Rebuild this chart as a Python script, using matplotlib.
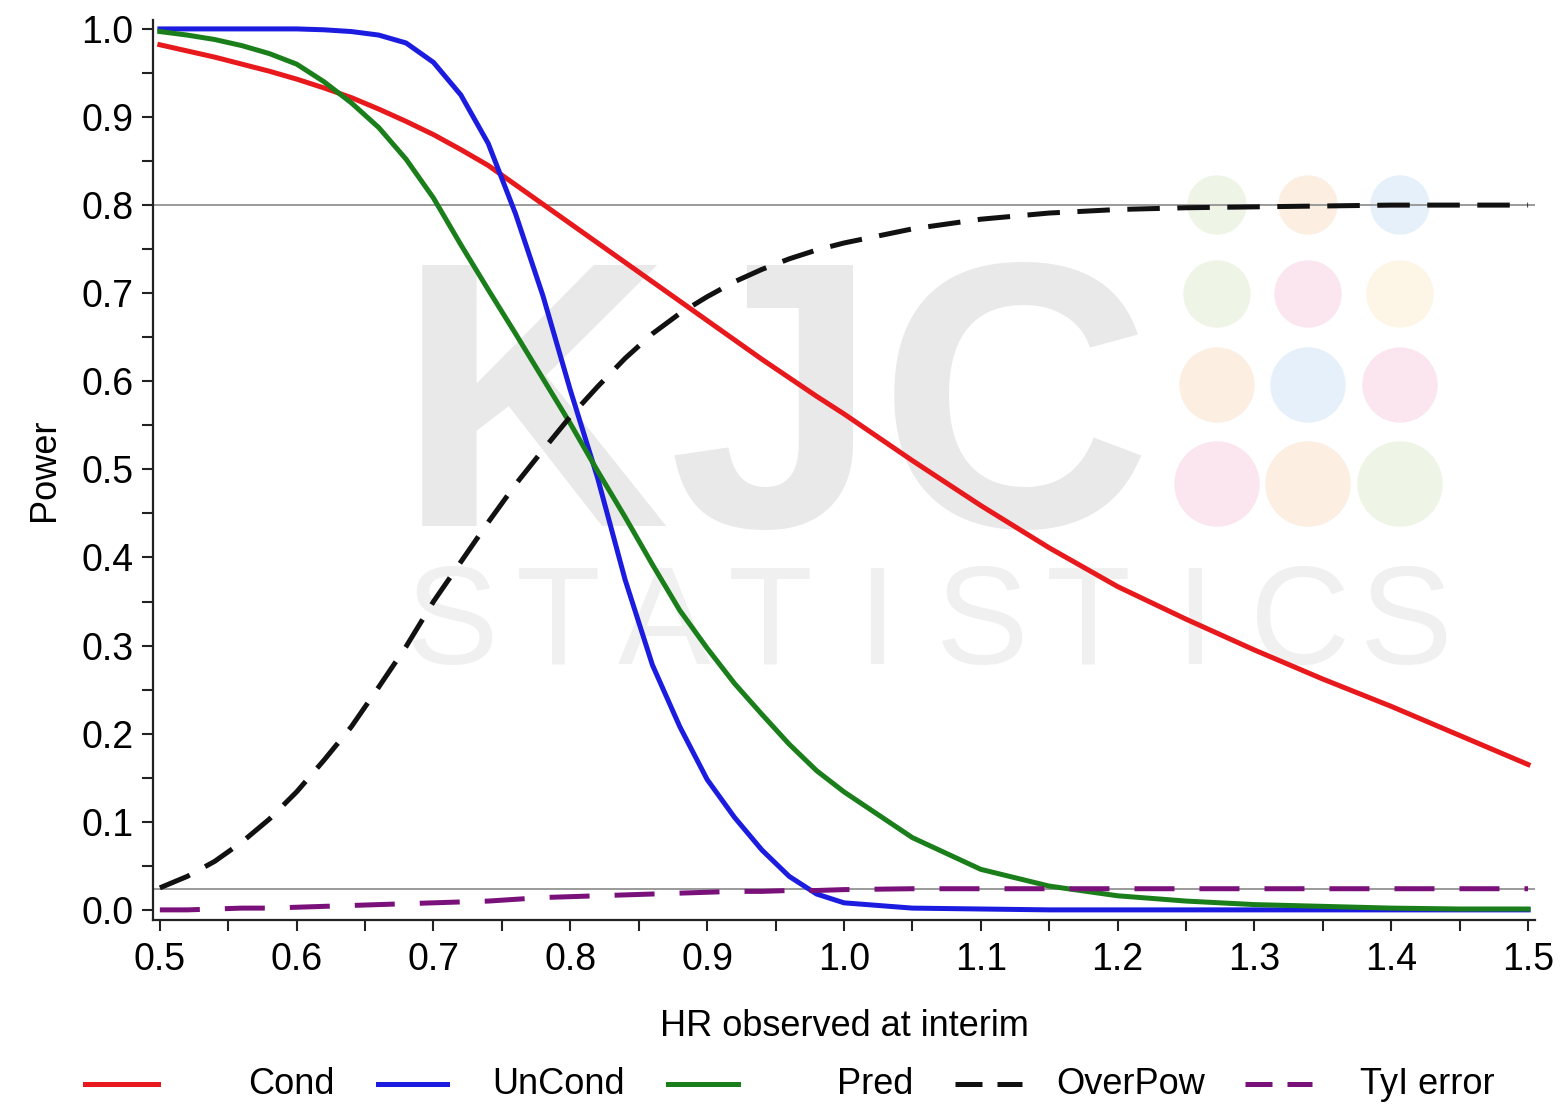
import matplotlib
matplotlib.use("Agg")
import matplotlib.pyplot as plt
from matplotlib.lines import Line2D
from matplotlib.patches import Circle

plt.rcParams['font.family'] = ['Liberation Sans', 'DejaVu Sans']

# values
hr = [0.50, 0.52, 0.54, 0.56, 0.58, 0.60, 0.62, 0.64, 0.66, 0.68, 0.70, 0.72,
      0.74, 0.76, 0.78, 0.80, 0.82, 0.84, 0.86, 0.88, 0.90, 0.92, 0.94, 0.96,
      0.98, 1.00, 1.05, 1.10, 1.15, 1.20, 1.25, 1.30, 1.35, 1.40, 1.45, 1.50]

cond = [0.982, 0.975, 0.968, 0.960, 0.952, 0.943, 0.933, 0.922, 0.909, 0.895, 0.880, 0.863,
        0.845, 0.823, 0.801, 0.779, 0.757, 0.735, 0.713, 0.691, 0.669, 0.647, 0.625, 0.604,
        0.583, 0.563, 0.510, 0.459, 0.411, 0.367, 0.330, 0.295, 0.262, 0.231, 0.198, 0.165]

uncond = [1.000, 1.000, 1.000, 1.000, 1.000, 1.000, 0.999, 0.997, 0.993, 0.984, 0.962, 0.925,
          0.870, 0.790, 0.697, 0.590, 0.490, 0.375, 0.278, 0.208, 0.148, 0.105, 0.068, 0.038,
          0.018, 0.008, 0.002, 0.001, 0.000, 0.000, 0.000, 0.000, 0.000, 0.000, 0.000, 0.000]

pred = [0.997, 0.993, 0.988, 0.981, 0.972, 0.960, 0.940, 0.916, 0.888, 0.852, 0.808, 0.755,
        0.704, 0.654, 0.603, 0.552, 0.498, 0.446, 0.392, 0.340, 0.297, 0.257, 0.222, 0.188,
        0.158, 0.134, 0.082, 0.046, 0.027, 0.016, 0.010, 0.006, 0.004, 0.002, 0.001, 0.001]

overpow = [0.025, 0.038, 0.055, 0.077, 0.103, 0.134, 0.170, 0.208, 0.253, 0.299, 0.350, 0.395,
           0.440, 0.483, 0.522, 0.560, 0.594, 0.626, 0.654, 0.677, 0.696, 0.713, 0.727, 0.739,
           0.749, 0.757, 0.773, 0.784, 0.791, 0.795, 0.797, 0.798, 0.799, 0.800, 0.800, 0.800]

tyi = [0.000, 0.000, 0.001, 0.002, 0.002, 0.003, 0.004, 0.005, 0.006, 0.007, 0.008, 0.009,
       0.010, 0.012, 0.014, 0.015, 0.016, 0.017, 0.018, 0.019, 0.020, 0.021, 0.021, 0.022,
       0.022, 0.023, 0.024, 0.024, 0.024, 0.024, 0.024, 0.024, 0.024, 0.024, 0.024, 0.024]

ref_levels = [0.8, 0.024]
labels = ['Cond', 'UnCond', 'Pred', 'OverPow', 'TyI error']
series = [cond, uncond, pred, overpow, tyi]
colors = ['#e8191c', '#1c1ce0', '#1a7f1a', '#111111', '#7a117a']
dashes = [None, None, None, (6.5, 3.5), (8, 5)]

fig = plt.figure(figsize=(15.6, 11.07), dpi=100)
ax = fig.add_axes([0.098, 0.169, 0.886, 0.813])
ax.set_facecolor('none')

# faint watermark
ax.text(775 / 1560, 1 - 428 / 1107, 'KJC', transform=fig.transFigure, fontsize=272,
        fontweight='bold', color='#e9e9e9', ha='center', va='center', zorder=0)
wm_letters = 'STATISTICS'
for i, ch in enumerate(wm_letters):
    ax.text((452 + i * 106) / 1560, 1 - 628 / 1107, ch, transform=fig.transFigure,
            fontsize=100, color='#f0f0f0', ha='center', va='center', zorder=0)
dot_cols = [1217, 1308, 1400]
dot_rows = [205, 294, 385, 484]
dot_r = [29, 33, 37, 42]
dot_colors = [['#eef5e6', '#fdeee2', '#e6f0fa'],
              ['#eef5e6', '#fbe6f0', '#fdf6e6'],
              ['#fdeee2', '#e6f0fa', '#fbe6f0'],
              ['#fbe6f0', '#fdeee2', '#eef5e6']]
for r, yy in enumerate(dot_rows):
    for c, xx in enumerate(dot_cols):
        ax.add_artist(Circle((xx / 100, (1107 - yy) / 100), dot_r[r] / 100,
                             transform=fig.dpi_scale_trans, color=dot_colors[r][c],
                             zorder=0.5, clip_on=False))

for lv in ref_levels:
    ax.axhline(lv, color='#9a9a9a', lw=1.4, zorder=1)

for ys, col, d in zip(series, colors, dashes):
    ln, = ax.plot(hr, ys, color=col, lw=3.6, zorder=2)
    if d is not None:
        ln.set_dashes(d)

ax.set_xlim(0.4949, 1.5051)
ax.set_ylim(-0.0114, 1.0102)
ax.set_xticks([0.5 + 0.1 * i for i in range(11)])
ax.set_xticks([0.55 + 0.1 * i for i in range(10)], minor=True)
ax.set_yticks([0.1 * i for i in range(11)])
ax.set_yticks([0.05 + 0.1 * i for i in range(10)], minor=True)
ax.xaxis.set_major_formatter(plt.FormatStrFormatter('%.1f'))
ax.yaxis.set_major_formatter(plt.FormatStrFormatter('%.1f'))
ax.tick_params(which='both', direction='out', length=8, width=1.5, labelsize=27, color='#222222')
ax.tick_params(axis='x', pad=8)
ax.tick_params(axis='y', pad=6)
for s in ['top', 'right']:
    ax.spines[s].set_visible(False)
for s in ['left', 'bottom']:
    ax.spines[s].set_linewidth(1.6)
    ax.spines[s].set_color('#222222')

ax.set_xlabel('HR observed at interim', fontsize=26, labelpad=22)
ax.set_ylabel('Power', fontsize=26, labelpad=14)

# legend row along the bottom
handle_x = [(85, 158), (378, 447), (668, 738), (955, 1022), (1245, 1312)]
label_right = [335, 625, 913, 1205, 1495]
ly = 1 - 1084 / 1107
for (x0, x1), xr, lab, col, d in zip(handle_x, label_right, labels, colors, dashes):
    h = Line2D([x0 / 1560, x1 / 1560], [ly, ly], transform=fig.transFigure, color=col, lw=3.6)
    if d is not None:
        h.set_dashes((5.4, 3.0))
    fig.add_artist(h)
    fig.text(xr / 1560, ly, lab, fontsize=26, ha='right', va='center')

fig.savefig('out.png', dpi=100)
